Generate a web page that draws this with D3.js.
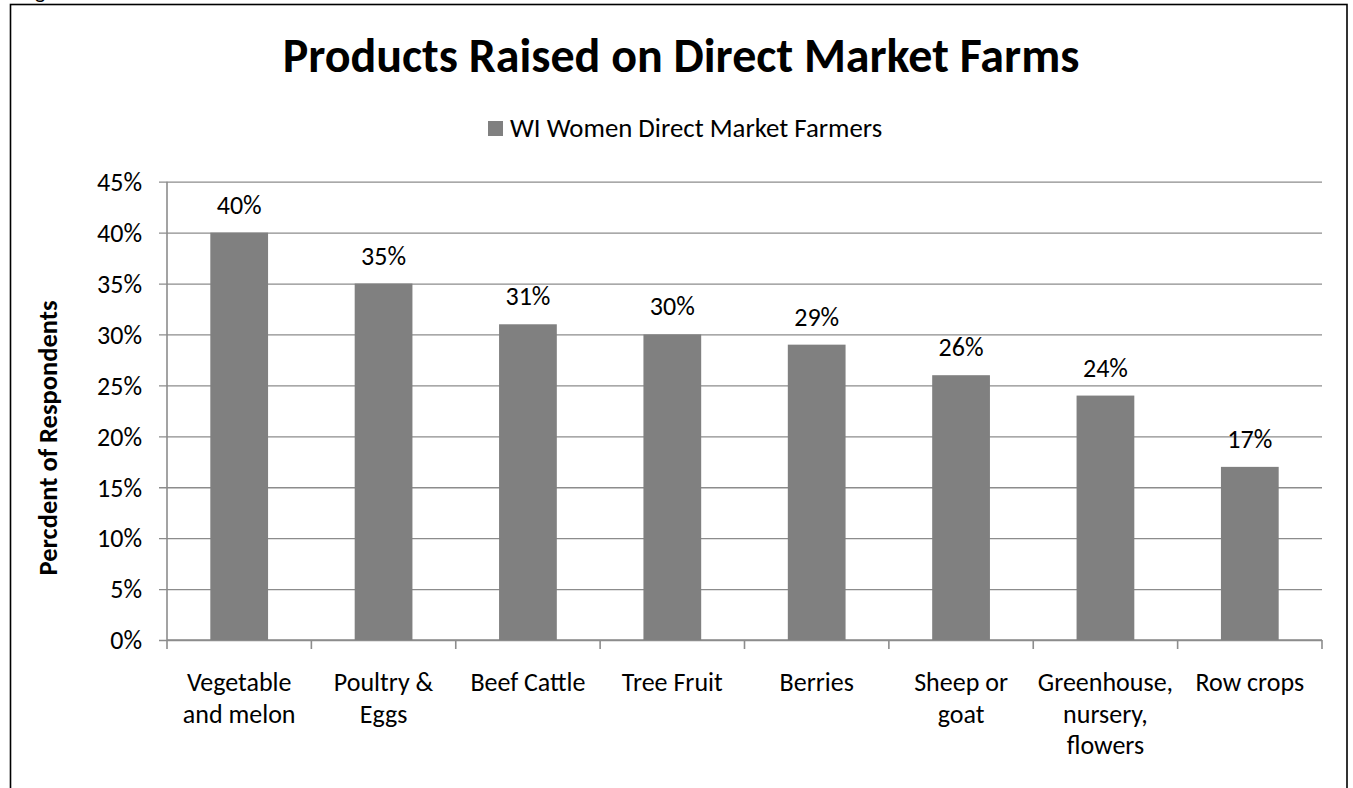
<!DOCTYPE html>
<html>
<head>
<meta charset="utf-8">
<script src="https://cdn.jsdelivr.net/npm/d3@7"></script>
<style>
  html, body { margin: 0; padding: 0; background: #fff; }
  svg { display: block; }
  text { font-family: Carlito, Lato, "Open Sans", sans-serif; fill: #000; }
</style>
</head>
<body>
<svg id="chart" width="1353" height="788"></svg>
<script>
// Survey results: share of respondents raising each product
const categories = [
  "Vegetable and melon",
  "Poultry & Eggs",
  "Beef Cattle",
  "Tree Fruit",
  "Berries",
  "Sheep or goat",
  "Greenhouse, nursery, flowers",
  "Row crops"
];
const percentValues = [40, 35, 31, 30, 29, 26, 24, 17];
const yTickValues = [0, 5, 10, 15, 20, 25, 30, 35, 40, 45];
const seriesName = "WI Women Direct Market Farmers";
const chartTitle = "Products Raised on Direct Market Farms";
const yAxisTitle = "Percdent of Respondents";

const svg = d3.select("#chart");

const plot = { left: 167, right: 1322, top: 181.7, bottom: 640 };
const gridColor = "#8c8c8c";
const barColor = "#808080";
const labelSize = 26;

// caption fragment sitting above the chart frame
svg.append("text")
  .attr("x", 35).attr("y", -2.5)
  .attr("font-size", 22)
  .text("g");

// chart frame
svg.append("rect")
  .attr("x", 10.5).attr("y", 4.5)
  .attr("width", 1336.5).attr("height", 820)
  .attr("fill", "none")
  .attr("stroke", "#000")
  .attr("stroke-width", 1.6);

const x = d3.scaleBand()
  .domain(categories)
  .range([plot.left, plot.right])
  .paddingInner(0.6)
  .paddingOuter(0.3);

const xCat = d3.scaleBand()
  .domain(categories)
  .range([plot.left, plot.right])
  .padding(0);

const y = d3.scaleLinear()
  .domain([0, 45])
  .range([plot.bottom, plot.top]);

// horizontal gridlines with short ticks to the left of the axis
const yAxis = d3.axisLeft(y)
  .tickValues(yTickValues)
  .tickSize(-(plot.right - plot.left))
  .tickFormat(d => d + "%");

const gy = svg.append("g")
  .attr("transform", `translate(${plot.left},0)`)
  .call(yAxis);
gy.select(".domain").remove();
gy.selectAll(".tick line")
  .attr("x1", -8)
  .attr("stroke", gridColor)
  .attr("stroke-width", 1.3);
gy.selectAll(".tick text")
  .attr("x", -25)
  .attr("dy", "0.34em")
  .attr("font-size", labelSize)
  .attr("font-family", "Carlito, Lato, sans-serif")
  .attr("fill", "#000");

// vertical value axis line
svg.append("line")
  .attr("x1", plot.left).attr("x2", plot.left)
  .attr("y1", plot.top).attr("y2", plot.bottom)
  .attr("stroke", gridColor)
  .attr("stroke-width", 1.6);

// category axis with boundary ticks
const boundaries = categories.map(c => xCat(c)).concat([plot.right]);
svg.append("line")
  .attr("x1", plot.left).attr("x2", plot.right)
  .attr("y1", plot.bottom).attr("y2", plot.bottom)
  .attr("stroke", gridColor)
  .attr("stroke-width", 1.6);
svg.selectAll(".xtick")
  .data(boundaries)
  .join("line")
  .attr("class", "xtick")
  .attr("x1", d => d).attr("x2", d => d)
  .attr("y1", plot.bottom).attr("y2", plot.bottom + 9)
  .attr("stroke", gridColor)
  .attr("stroke-width", 1.6);

// bars
svg.selectAll(".bar")
  .data(percentValues)
  .join("rect")
  .attr("class", "bar")
  .attr("x", (d, i) => x(categories[i]))
  .attr("width", x.bandwidth())
  .attr("y", d => y(d))
  .attr("height", d => y(0) - y(d))
  .attr("fill", barColor);

// value labels
svg.selectAll(".val")
  .data(percentValues)
  .join("text")
  .attr("class", "val")
  .attr("x", (d, i) => x(categories[i]) + x.bandwidth() / 2)
  .attr("y", d => y(d) - 19)
  .attr("text-anchor", "middle")
  .attr("font-size", labelSize)
  .text(d => d + "%");

// category labels, wrapped to the category width
const maxW = xCat.bandwidth() - 6;
categories.forEach(c => {
  const t = svg.append("text")
    .attr("text-anchor", "middle")
    .attr("font-size", labelSize);
  const cx = xCat(c) + xCat.bandwidth() / 2;
  const words = c.split(" ");
  let lines = [], cur = [];
  const probe = svg.append("text").attr("font-size", labelSize);
  words.forEach(w => {
    const trial = cur.concat([w]).join(" ");
    probe.text(trial);
    if (cur.length && probe.node().getComputedTextLength() > maxW) {
      lines.push(cur.join(" "));
      cur = [w];
    } else {
      cur.push(w);
    }
  });
  lines.push(cur.join(" "));
  probe.remove();
  lines.forEach((ln, i) => {
    t.append("tspan")
      .attr("x", cx)
      .attr("y", plot.bottom + 51 + i * 31.5)
      .text(ln);
  });
});

// chart title
svg.append("text")
  .attr("x", 681).attr("y", 71.5)
  .attr("text-anchor", "middle")
  .attr("font-size", 48)
  .attr("font-weight", "bold")
  .text(chartTitle);

// legend
const legend = svg.append("g");
legend.append("rect")
  .attr("x", 488).attr("y", 121)
  .attr("width", 15).attr("height", 15)
  .attr("fill", barColor);
legend.append("text")
  .attr("x", 510).attr("y", 137)
  .attr("font-size", 26.8)
  .text(seriesName);

// value axis title
svg.append("text")
  .attr("transform", "translate(57,438) rotate(-90)")
  .attr("text-anchor", "middle")
  .attr("font-size", 26.5)
  .attr("font-weight", "bold")
  .text(yAxisTitle);
</script>
</body>
</html>
